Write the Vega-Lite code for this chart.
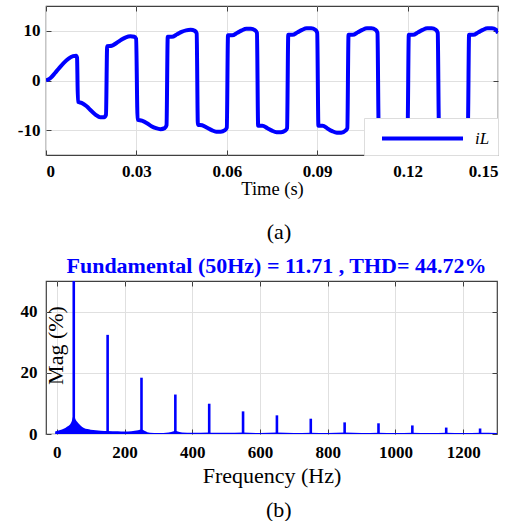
{
  "$schema": "https://vega.github.io/schema/vega-lite/v6.json",
  "padding": {"left": 0, "top": 4, "right": 0, "bottom": 0},
  "spacing": 9,
  "resolve": {"scale": {"color": "independent"}, "legend": {"color": "independent"}},
  "title": {"text": "(b)", "orient": "bottom", "anchor": "middle", "font": "Liberation Serif", "fontSize": 22, "fontWeight": "normal", "color": "#000", "offset": 13, "dx": 29},
  "datasets": {
    "wave": [
      {"t": 0, "v": 0}, {"t": 0.0015, "v": 0.5}, {"t": 0.003, "v": 1.5}, {"t": 0.0045, "v": 2.6}, {"t": 0.006, "v": 3.6}, {"t": 0.0075, "v": 4.4}, {"t": 0.009, "v": 4.9}, {"t": 0.01, "v": 5.0}, {"t": 0.0103, "v": 4.6},
      {"t": 0.0106, "v": -4.3}, {"t": 0.0118, "v": -4.5}, {"t": 0.0135, "v": -5.2}, {"t": 0.015, "v": -6.1}, {"t": 0.0165, "v": -6.9}, {"t": 0.018, "v": -7.4}, {"t": 0.0193, "v": -7.4}, {"t": 0.0199, "v": -6.9},
      {"t": 0.0203, "v": 6.9}, {"t": 0.0218, "v": 7.0}, {"t": 0.0235, "v": 7.6}, {"t": 0.025, "v": 8.2}, {"t": 0.0265, "v": 8.7}, {"t": 0.028, "v": 8.9}, {"t": 0.0293, "v": 8.8}, {"t": 0.0299, "v": 8.4},
      {"t": 0.0304, "v": -7.9}, {"t": 0.0318, "v": -8.1}, {"t": 0.0335, "v": -8.6}, {"t": 0.035, "v": -9.2}, {"t": 0.0365, "v": -9.6}, {"t": 0.038, "v": -9.8}, {"t": 0.0394, "v": -9.6}, {"t": 0.04, "v": -9.0},
      {"t": 0.0404, "v": 8.8}, {"t": 0.0418, "v": 8.8}, {"t": 0.0435, "v": 9.3}, {"t": 0.045, "v": 9.8}, {"t": 0.0465, "v": 10.1}, {"t": 0.048, "v": 10.2}, {"t": 0.0494, "v": 10.0}, {"t": 0.05, "v": 9.5},
      {"t": 0.0504, "v": -8.9}, {"t": 0.0518, "v": -9.0}, {"t": 0.0535, "v": -9.5}, {"t": 0.055, "v": -10.0}, {"t": 0.0565, "v": -10.3}, {"t": 0.058, "v": -10.3}, {"t": 0.0594, "v": -10.0}, {"t": 0.06, "v": -9.5},
      {"t": 0.0604, "v": 9.1}, {"t": 0.0618, "v": 9.1}, {"t": 0.0635, "v": 9.6}, {"t": 0.065, "v": 10.1}, {"t": 0.0665, "v": 10.4}, {"t": 0.068, "v": 10.4}, {"t": 0.0694, "v": 10.1}, {"t": 0.07, "v": 9.6},
      {"t": 0.0704, "v": -9.1}, {"t": 0.0718, "v": -9.1}, {"t": 0.0735, "v": -9.6}, {"t": 0.075, "v": -10.1}, {"t": 0.0765, "v": -10.4}, {"t": 0.078, "v": -10.4}, {"t": 0.0794, "v": -10.1}, {"t": 0.08, "v": -9.6},
      {"t": 0.0804, "v": 9.2}, {"t": 0.0818, "v": 9.2}, {"t": 0.0835, "v": 9.7}, {"t": 0.085, "v": 10.2}, {"t": 0.0865, "v": 10.5}, {"t": 0.088, "v": 10.5}, {"t": 0.0894, "v": 10.2}, {"t": 0.09, "v": 9.6},
      {"t": 0.0904, "v": -9.1}, {"t": 0.0918, "v": -9.1}, {"t": 0.0935, "v": -9.7}, {"t": 0.095, "v": -10.2}, {"t": 0.0965, "v": -10.5}, {"t": 0.098, "v": -10.5}, {"t": 0.0994, "v": -10.1}, {"t": 0.1, "v": -9.6},
      {"t": 0.1004, "v": 9.2}, {"t": 0.1018, "v": 9.2}, {"t": 0.1035, "v": 9.7}, {"t": 0.105, "v": 10.2}, {"t": 0.1065, "v": 10.5}, {"t": 0.108, "v": 10.5}, {"t": 0.1094, "v": 10.2}, {"t": 0.11, "v": 9.6},
      {"t": 0.1104, "v": -9.1}, {"t": 0.1118, "v": -9.1}, {"t": 0.1135, "v": -9.7}, {"t": 0.115, "v": -10.2}, {"t": 0.1165, "v": -10.5}, {"t": 0.118, "v": -10.5}, {"t": 0.1194, "v": -10.1}, {"t": 0.12, "v": -9.6},
      {"t": 0.1204, "v": 9.2}, {"t": 0.1218, "v": 9.2}, {"t": 0.1235, "v": 9.7}, {"t": 0.125, "v": 10.2}, {"t": 0.1265, "v": 10.5}, {"t": 0.128, "v": 10.5}, {"t": 0.1294, "v": 10.2}, {"t": 0.13, "v": 9.6},
      {"t": 0.1304, "v": -9.1}, {"t": 0.1318, "v": -9.1}, {"t": 0.1335, "v": -9.7}, {"t": 0.135, "v": -10.2}, {"t": 0.1365, "v": -10.5}, {"t": 0.138, "v": -10.5}, {"t": 0.1394, "v": -10.1}, {"t": 0.14, "v": -9.6},
      {"t": 0.1404, "v": 9.2}, {"t": 0.1418, "v": 9.2}, {"t": 0.1435, "v": 9.7}, {"t": 0.145, "v": 10.2}, {"t": 0.1465, "v": 10.5}, {"t": 0.148, "v": 10.5}, {"t": 0.1494, "v": 10.2}, {"t": 0.15, "v": 9.5}
    ],
    "cont": [
      {"f": -5, "m": 0.8}, {"f": 0, "m": 1.0}, {"f": 10, "m": 1.3}, {"f": 20, "m": 1.7}, {"f": 30, "m": 2.4}, {"f": 40, "m": 3.3}, {"f": 45, "m": 4.5}, {"f": 48, "m": 5.8}, {"f": 50, "m": 6.3}, {"f": 52, "m": 5.8}, {"f": 55, "m": 4.8}, {"f": 60, "m": 4.0}, {"f": 70, "m": 2.8}, {"f": 80, "m": 2.0}, {"f": 90, "m": 1.6}, {"f": 100, "m": 1.4}, {"f": 130, "m": 1.1}, {"f": 150, "m": 1.0}, {"f": 180, "m": 0.9}, {"f": 200, "m": 0.8}, {"f": 220, "m": 0.9}, {"f": 240, "m": 1.2}, {"f": 250, "m": 1.5}, {"f": 260, "m": 1.0}, {"f": 275, "m": 0.4}, {"f": 300, "m": 0.3}, {"f": 330, "m": 0.5}, {"f": 345, "m": 0.9}, {"f": 350, "m": 1.1}, {"f": 355, "m": 0.9}, {"f": 370, "m": 0.5}, {"f": 400, "m": 0.4}, {"f": 450, "m": 0.5}, {"f": 460, "m": 0.4}, {"f": 500, "m": 0.4}, {"f": 550, "m": 0.5}, {"f": 600, "m": 0.3}, {"f": 650, "m": 0.5}, {"f": 700, "m": 0.3}, {"f": 750, "m": 0.4}, {"f": 800, "m": 0.3}, {"f": 850, "m": 0.5}, {"f": 900, "m": 0.3}, {"f": 950, "m": 0.4}, {"f": 1000, "m": 0.3}, {"f": 1050, "m": 0.4}, {"f": 1100, "m": 0.3}, {"f": 1150, "m": 0.4}, {"f": 1200, "m": 0.3}, {"f": 1250, "m": 0.4}, {"f": 1300, "m": 0.3}
    ],
    "spikes": [
      {"f": 50, "m": 100}, {"f": 150, "m": 32.4}, {"f": 250, "m": 18.4}, {"f": 350, "m": 12.9}, {"f": 450, "m": 9.9}, {"f": 550, "m": 7.4}, {"f": 650, "m": 6.1}, {"f": 750, "m": 5.0}, {"f": 850, "m": 3.8}, {"f": 950, "m": 3.5}, {"f": 1050, "m": 2.8}, {"f": 1150, "m": 2.1}, {"f": 1250, "m": 1.8}
    ]
  },
  "vconcat": [
    {
      "width": 452,
      "height": 149,
      "title": {"text": "(a)", "orient": "bottom", "font": "Liberation Serif", "fontSize": 22, "fontWeight": "normal", "color": "#000", "offset": 24, "dx": 7},
      "data": {"name": "wave"},
      "layer": [
        {
          "mark": {"type": "line", "strokeWidth": 4, "interpolate": "monotone", "clip": true},
          "encoding": {
            "x": {"field": "t", "type": "quantitative", "scale": {"domain": [0, 0.15], "nice": false, "zero": false},
                  "axis": {"orient": "bottom", "values": [0, 0.03, 0.06, 0.09, 0.12, 0.15], "format": ".2~f", "title": "Time (s)", "titleFontSize": 18.5, "titlePadding": 0, "labelPadding": 13}},
            "y": {"field": "v", "type": "quantitative", "scale": {"domain": [-15, 15], "nice": false},
                  "axis": {"orient": "left", "values": [-10, 0, 10], "title": null, "labelPadding": 11, "minExtent": 45, "maxExtent": 45, "labelExpr": "replace(datum.label, '\u2212', '-')"}},
            "color": {"datum": "iL", "type": "nominal", "scale": {"range": ["#0000ff"]},
                      "legend": {"title": null, "orient": "bottom-right", "offset": 0, "padding": 8, "fillColor": "#ffffff", "strokeColor": "#dddddd", "symbolType": "M-4,0L4,0", "symbolSize": 410, "symbolStrokeWidth": 4, "symbolOffset": 38, "labelOffset": 40, "labelFont": "Liberation Serif", "labelFontStyle": "italic", "labelFontSize": 17}}
          }
        },
        {
          "mark": {"type": "line", "opacity": 0},
          "encoding": {
            "x": {"field": "t", "type": "quantitative", "axis": {"orient": "top", "values": [0, 0.03, 0.06, 0.09, 0.12, 0.15], "labels": false, "grid": false, "title": null}},
            "y": {"field": "v", "type": "quantitative", "axis": {"orient": "right", "values": [-10, 0, 10], "labels": false, "grid": false, "title": null}}
          }
        }
      ]
    },
    {
      "width": 451,
      "height": 153,
      "title": {"text": "Fundamental (50Hz) = 11.71 , THD= 44.72%", "color": "#0000ff", "font": "Liberation Serif", "fontWeight": "bold", "fontSize": 22, "anchor": "middle", "offset": 3, "dx": 5},
      "layer": [
        {
          "data": {"name": "cont"},
          "mark": {"type": "area", "color": "#0000ff", "opacity": 1, "clip": true, "interpolate": "monotone"},
          "encoding": {
            "x": {"field": "f", "type": "quantitative", "scale": {"domain": [-32, 1300], "nice": false, "zero": false},
                  "axis": {"orient": "bottom", "values": [0, 200, 400, 600, 800, 1000, 1200], "format": "d", "title": "Frequency (Hz)", "titleFontSize": 22, "titlePadding": 5, "labelPadding": 15}},
            "y": {"field": "m", "type": "quantitative", "scale": {"domain": [0, 50], "nice": false, "clamp": true},
                  "axis": {"orient": "left", "values": [0, 20, 40], "title": "Mag (%)", "titleFontSize": 22, "titleX": 21, "titleY": 64, "titleAngle": -90, "titleAlign": "center", "titleBaseline": "bottom", "labelPadding": 14, "minExtent": 44, "maxExtent": 44}}
          }
        },
        {
          "data": {"name": "spikes"},
          "mark": {"type": "rule", "color": "#0000ff", "strokeWidth": 2.6, "clip": true},
          "encoding": {
            "x": {"field": "f", "type": "quantitative", "axis": null},
            "y": {"field": "m", "type": "quantitative", "axis": null},
            "y2": {"datum": 0}
          }
        },
        {
          "data": {"name": "spikes"},
          "mark": {"type": "point", "opacity": 0, "clip": true},
          "encoding": {
            "x": {"field": "f", "type": "quantitative", "axis": {"orient": "top", "values": [0, 200, 400, 600, 800, 1000, 1200], "labels": false, "grid": false, "title": null}},
            "y": {"field": "m", "type": "quantitative", "axis": {"orient": "right", "values": [0, 20, 40], "labels": false, "grid": false, "title": null}}
          }
        }
      ]
    }
  ],
  "config": {
    "view": {"stroke": "#404040", "strokeWidth": 1.2},
    "axis": {"labelFont": "Liberation Serif", "labelFontWeight": "bold", "labelFontSize": 17, "labelColor": "#000", "titleFont": "Liberation Serif", "titleFontWeight": "normal", "titleColor": "#000", "gridColor": "#e0e0e0", "gridWidth": 1, "domain": false, "tickColor": "#404040", "tickSize": -5, "tickWidth": 1},
    "legend": {"symbolOpacity": 1}
  }
}
